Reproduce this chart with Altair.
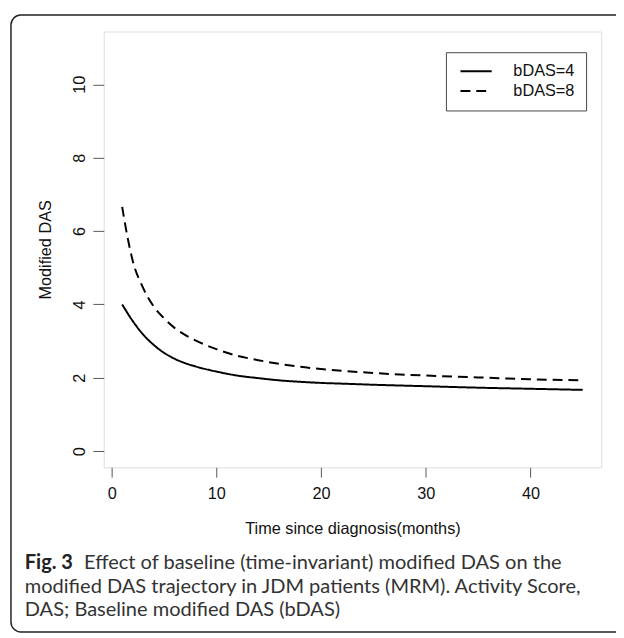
import altair as alt
import pandas as pd

# ---- data ----
series_names = ["bDAS=4", "bDAS=8"]
time_bdas4 = [1, 2, 3, 4, 5, 6, 7, 8, 10, 12, 14, 16, 18, 20, 22, 25, 30, 35, 40, 45]
das_bdas4 = [4.00, 3.55, 3.18, 2.90, 2.68, 2.52, 2.40, 2.31, 2.17, 2.06, 1.99, 1.93,
             1.89, 1.86, 1.84, 1.81, 1.77, 1.73, 1.70, 1.67]
time_bdas8 = [1, 1.5, 2, 3, 4, 5, 6, 7, 8, 10, 12, 14, 16, 18, 20, 22, 25, 30, 35, 40, 45]
das_bdas8 = [6.66, 5.85, 5.20, 4.45, 3.95, 3.62, 3.36, 3.17, 3.02, 2.78, 2.60, 2.48,
             2.38, 2.30, 2.24, 2.19, 2.13, 2.06, 2.01, 1.96, 1.93]
x_ticks = [0, 10, 20, 30, 40]
y_ticks = [0, 2, 4, 6, 8, 10]
x_title = "Time since diagnosis(months)"
y_title = "Modified DAS"
caption_bold = "Fig. 3"
caption_lines = [
    "Effect of baseline (time-invariant) modified DAS on the",
    "modified DAS trajectory in JDM patients (MRM). Activity Score,",
    "DAS; Baseline modified DAS (bDAS)",
]

df = pd.concat([
    pd.DataFrame({"t": time_bdas4, "v": das_bdas4, "s": series_names[0]}),
    pd.DataFrame({"t": time_bdas8, "v": das_bdas8, "s": series_names[1]}),
])

W, H = 504, 441.5
AX_FONT = "Liberation Sans"
FS = 16.5

lines = alt.Chart(df).mark_line(color="black", strokeWidth=2, interpolate="monotone").encode(
    x=alt.X("t:Q", scale=alt.Scale(domain=[-0.76, 46.76], nice=False, zero=False),
            axis=alt.Axis(values=x_ticks, title=x_title, grid=False, domain=False,
                          tickSize=10, tickColor="#555", labelFont=AX_FONT, labelFontSize=FS,
                          labelColor="#111", labelPadding=9, labelFlush=False,
                          titleFont=AX_FONT, titleFontSize=FS, titleFontWeight="normal",
                          titleColor="#111", titleX=W / 2, titleY=62,
                          titleAlign="center", titleBaseline="middle")),
    y=alt.Y("v:Q", scale=alt.Scale(domain=[-0.44, 11.44], nice=False, zero=False),
            axis=alt.Axis(values=y_ticks, title=y_title, grid=False, domain=False,
                          tickSize=11, tickColor="#555", labelFont=AX_FONT, labelFontSize=FS,
                          labelColor="#111", labelAngle=270, labelAlign="center",
                          labelBaseline="middle", labelPadding=13.5, labelFlush=False,
                          titleFont=AX_FONT, titleFontSize=FS, titleFontWeight="normal",
                          titleColor="#111", titleX=-59, titleY=H / 2, titleAngle=270,
                          titleAlign="center", titleBaseline="middle")),
    strokeDash=alt.StrokeDash(
        "s:N",
        scale=alt.Scale(domain=series_names, range=[[1, 0], [10, 6]]),
        legend=alt.Legend(title=None, orient="none", legendX=346.7, legendY=21,
                          symbolType="M-3,0H3", symbolSize=111, symbolStrokeWidth=2,
                          symbolStrokeColor="black", symbolFillColor="transparent",
                          symbolOffset=11.3, labelOffset=29.5,
                          labelFont=AX_FONT, labelFontSize=FS,
                          labelColor="#111", padding=11, rowPadding=3,
                          strokeColor="#444", fillColor="white"),
    ),
)

frame = alt.Chart(pd.DataFrame({"k": [0]})).mark_rect(
    fillOpacity=0, stroke="#222", strokeWidth=1.5, cornerRadius=10
).encode(x=alt.value(-94), x2=alt.value(540), y=alt.value(-16.7), y2=alt.value(608.3))

cap_font = "Lato"
CFS = 20.3
cap_bold = alt.Chart(pd.DataFrame({"txt": [caption_bold]})).mark_text(
    align="left", baseline="alphabetic", font=cap_font, fontSize=CFS, fontWeight="bold",
    color="#222"
).encode(text="txt:N", x=alt.value(-80), y=alt.value(545))

cap_rows = []
cap_rows.append(alt.Chart(pd.DataFrame({"txt": [caption_lines[0]]})).mark_text(
    align="left", baseline="alphabetic", font=cap_font, fontSize=CFS, color="#333"
).encode(text="txt:N", x=alt.value(-20), y=alt.value(545)))
cap_rows.append(alt.Chart(pd.DataFrame({"txt": [caption_lines[1]]})).mark_text(
    align="left", baseline="alphabetic", font=cap_font, fontSize=CFS, color="#333"
).encode(text="txt:N", x=alt.value(-80), y=alt.value(569)))
cap_rows.append(alt.Chart(pd.DataFrame({"txt": [caption_lines[2]]})).mark_text(
    align="left", baseline="alphabetic", font=cap_font, fontSize=CFS, color="#333"
).encode(text="txt:N", x=alt.value(-80), y=alt.value(592.3)))

chart = alt.layer(frame, lines, cap_bold, *cap_rows).properties(
    width=W, height=H,
    autosize=alt.AutoSizeParams(type="none"),
    padding={"left": 97, "top": 19.7, "right": 15, "bottom": 166},
).configure_view(stroke="#444", strokeWidth=1).configure(background="white")

chart.save("out.html", embed_options={"renderer": "svg", "actions": False})
